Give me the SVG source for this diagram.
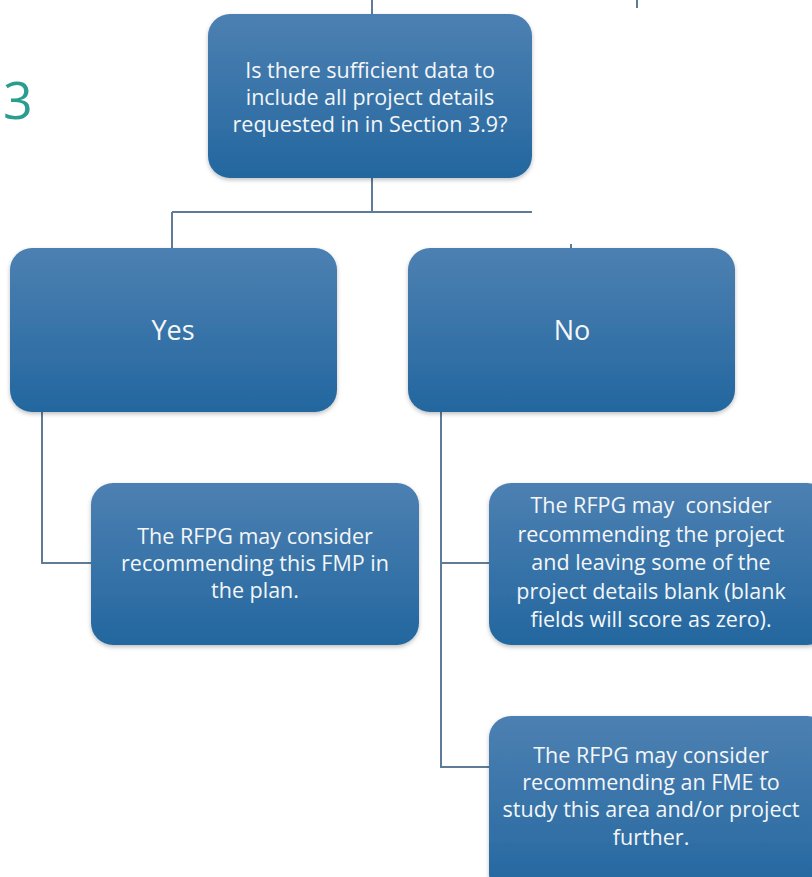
<svg xmlns="http://www.w3.org/2000/svg" width="812" height="877" viewBox="0 0 812 877">
<defs>
<linearGradient id="g" x1="0" y1="0" x2="0" y2="1">
<stop offset="0" stop-color="#4d80b2"/>
<stop offset="1" stop-color="#23679f"/>
</linearGradient>
<filter id="sh" x="-10%" y="-10%" width="120%" height="125%">
<feDropShadow dx="0" dy="2" stdDeviation="2" flood-color="#000" flood-opacity="0.25"/>
</filter>
</defs>
<style>
.box{fill:url(#g);filter:url(#sh)}
.t{fill:#f4f6f8;font-family:"Open Sans","Liberation Sans",sans-serif;font-size:21.5px;text-anchor:middle}
.big{font-size:27px}
.ln{stroke:#5e7c97;stroke-width:2;fill:none}
</style>
<rect width="812" height="877" fill="#ffffff"/>
<text x="3" y="119" font-family="Open Sans, Liberation Sans, sans-serif" font-size="52" fill="#2a9d8f">3</text>
<g id="connectors">
<path class="ln" d="M372 0 V14"/>
<path class="ln" d="M637 0 V8" stroke="#9aa8b4"/>
<path class="ln" d="M372 178 V212 M172 212 H532 M172 212 V248"/>
<path class="ln" d="M571 244 V248" stroke="#9aa8b4"/>
<path class="ln" d="M42 412 V563 H91"/>
<path class="ln" d="M441 412 V767 H489 M441 563 H489"/>
</g>
<g id="q">
<rect class="box" x="208" y="14" width="324" height="164" rx="22"/>
<text class="t" x="370" y="78">Is there sufficient data to</text>
<text class="t" x="370" y="105">include all project details</text>
<text class="t" x="370" y="132">requested in in Section 3.9?</text>
</g>
<g id="yes">
<rect class="box" x="10" y="248" width="327" height="164" rx="22"/>
<text class="t big" x="173" y="340">Yes</text>
</g>
<g id="no">
<rect class="box" x="408" y="248" width="327" height="164" rx="22"/>
<text class="t big" x="572" y="340">No</text>
</g>
<g id="yes-result">
<rect class="box" x="91" y="483" width="328" height="162" rx="22"/>
<text class="t" x="255" y="544">The RFPG may consider</text>
<text class="t" x="255" y="571">recommending this FMP in</text>
<text class="t" x="255" y="598">the plan.</text>
</g>
<g id="no-result-1">
<rect class="box" x="489" y="483" width="340" height="162" rx="22"/>
<text class="t" x="651" y="513" xml:space="preserve">The RFPG may  consider</text>
<text class="t" x="651" y="542">recommending the project</text>
<text class="t" x="651" y="570">and leaving some of the</text>
<text class="t" x="651" y="599">project details blank (blank</text>
<text class="t" x="651" y="627">fields will score as zero).</text>
</g>
<g id="no-result-2">
<rect class="box" x="489" y="716" width="340" height="180" rx="22"/>
<text class="t" x="651" y="763">The RFPG may consider</text>
<text class="t" x="651" y="790">recommending an FME to</text>
<text class="t" x="651" y="817">study this area and/or project</text>
<text class="t" x="651" y="845">further.</text>
</g>
</svg>
